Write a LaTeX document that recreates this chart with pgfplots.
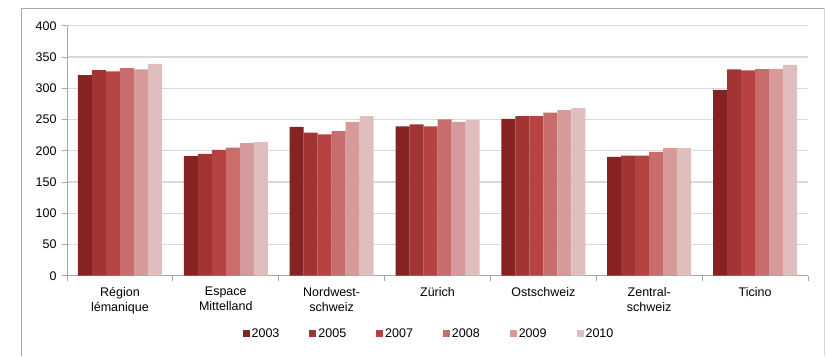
\documentclass[border=0pt]{standalone}
\usepackage{pgfplots}
\pgfplotsset{compat=1.18}
\usepackage{fontspec}
\setmainfont{Liberation Sans}

\definecolor{cA}{HTML}{862222}
\definecolor{cB}{HTML}{A23434}
\definecolor{cC}{HTML}{B74242}
\definecolor{cD}{HTML}{C96C6C}
\definecolor{cE}{HTML}{D69A9A}
\definecolor{cF}{HTML}{E1BEBE}
\definecolor{gridc}{HTML}{D9D9D9}
\definecolor{axisc}{HTML}{A6A6A6}

\begin{document}
\begin{tikzpicture}
\begin{axis}[
  scale only axis,
  width=741bp, height=250bp,
  ybar=0pt, bar width=14bp,
  xmin=-0.5, xmax=6.5,
  ymin=0, ymax=400,
  ytick={0,50,...,400},
  xtick={0,...,6},
  xticklabels={{Région\\lémanique},{Espace\\Mittelland},{Nordwest-\\schweiz},{Zürich},{Ostschweiz},{Zentral-\\schweiz},{Ticino}},
  minor xtick={-0.5,0.5,...,6.5},
  major x tick style={draw=none},
  minor tick length=5bp,
  major tick length=5bp,
  tick align=outside,
  tick pos=left,
  tick style={axisc, line width=0.8pt},
  axis x line*=bottom, axis y line*=left,
  axis line style={axisc, line width=0.8pt, -},
  ymajorgrids, grid style={gridc, line width=1.4pt},
  font=\fontsize{12.5bp}{15bp}\selectfont,
  /pgf/number format/assume math mode=true,
  xticklabel style={align=center, yshift=-3bp},
  yticklabel style={xshift=-2bp},
  legend columns=6,
  legend style={draw=none, fill=none, at={(362bp,-58bp)}, anchor=center,
    /tikz/every even column/.append style={column sep=28bp},
    font=\fontsize{12.5bp}{15bp}\selectfont},
  legend image code/.code={\fill[#1] (0bp,-3.5bp) rectangle (7bp,3.5bp);},
]
\addplot[fill=cA, draw=none] coordinates {(0,321) (1,191.5) (2,238) (3,239) (4,251) (5,190) (6,297.5)};
\addplot[fill=cB, draw=none] coordinates {(0,329) (1,195) (2,229) (3,242) (4,255.5) (5,192) (6,330)};
\addplot[fill=cC, draw=none] coordinates {(0,327) (1,201.5) (2,226) (3,239) (4,255.5) (5,192) (6,328.5)};
\addplot[fill=cD, draw=none] coordinates {(0,332) (1,205) (2,231.5) (3,250) (4,261) (5,198) (6,330.5)};
\addplot[fill=cE, draw=none] coordinates {(0,330) (1,212) (2,246) (3,246) (4,265) (5,204) (6,331)};
\addplot[fill=cF, draw=none] coordinates {(0,339) (1,214) (2,255.5) (3,249) (4,268) (5,204) (6,337.5)};
\legend{2003,2005,2007,2008,2009,2010}
\end{axis}
% outer chart frame
\draw[axisc, line width=1pt] (-46bp,-80bp) -- (-46bp,267.7bp) -- (757bp,267.7bp);
\draw[gridc, line width=1pt] (757bp,267.7bp) -- (757bp,-80bp);
\path[use as bounding box] (-67bp,-74.3bp) rectangle (760bp,275.7bp);
\end{tikzpicture}
\end{document}
